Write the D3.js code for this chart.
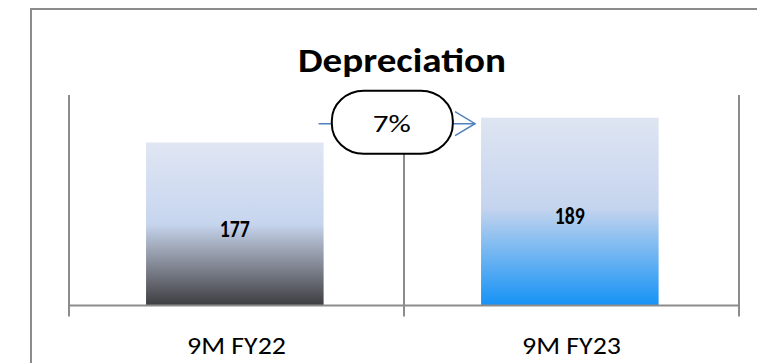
<!DOCTYPE html>
<html>
<head>
<meta charset="utf-8">
<script src="https://cdn.jsdelivr.net/npm/d3@7"></script>
<style>
  html, body { margin: 0; padding: 0; background: #fff; overflow: hidden; }
  #chart { width: 757px; height: 363px; }
  svg { display: block; }
  text { font-family: Carlito, Calibri, Lato, sans-serif; }
</style>
</head>
<body>
<div id="chart"></div>
<script>
// chart data
const categories = ["9M FY22", "9M FY23"]
const values = [177, 189]
const title = "Depreciation"
const yDomain = [98, 200]

const width = 757
const height = 363

const svg = d3.select("#chart").append("svg")
  .attr("viewBox", [0, 0, width, height])
  .attr("width", width)
  .attr("height", height)

// gradients for the two bars
const defs = svg.append("defs")
const grads = [
  [["0%", "#e0e6f3"], ["50%", "#c6d5ee"], ["64%", "#a2aabb"], ["100%", "#3d3d40"]],
  [["0%", "#dee5f2"], ["48%", "#c5d4ee"], ["65%", "#8bbff0"], ["100%", "#1592f6"]]
]
grads.forEach((stops, i) => {
  const g = defs.append("linearGradient")
    .attr("id", "bar" + i)
    .attr("x1", 0).attr("y1", 0).attr("x2", 0).attr("y2", 1)
  stops.forEach(s => g.append("stop").attr("offset", s[0]).attr("stop-color", s[1]))
})

// outer frame: only the top and left edges are in view
svg.append("path")
  .attr("d", "M31,400V9H900")
  .attr("fill", "none")
  .attr("stroke", "#8c8c8c")
  .attr("stroke-width", 2)

const x = d3.scaleBand()
  .domain(categories)
  .range([69, 739])

const y = d3.scaleLinear()
  .domain(yDomain)
  .range([305.5, 95])

const plot = svg.append("g").classed("plot", true)

// category separators / axis line
const edges = [x(categories[0]), ...categories.map(c => x(c) + x.bandwidth())]
plot.append("g").classed("grid", true)
  .selectAll("line")
  .data(edges)
  .join("line")
  .attr("x1", d => d).attr("x2", d => d)
  .attr("y1", y(yDomain[1])).attr("y2", y(yDomain[0]) + 11)
  .attr("stroke", "#8c8c8c")
  .attr("stroke-width", 2)

// bars
const barW = x.bandwidth() * 0.53
const barX = c => x(c) + x.bandwidth() * 0.23
plot.append("g").classed("bars", true)
  .selectAll("rect")
  .data(values)
  .join("rect")
  .attr("x", (d, i) => barX(categories[i]))
  .attr("width", barW)
  .attr("y", d => y(d))
  .attr("height", d => y(yDomain[0]) - y(d))
  .attr("fill", (d, i) => `url(#bar${i})`)

// baseline
plot.append("line")
  .attr("x1", 69).attr("x2", 739)
  .attr("y1", y(yDomain[0])).attr("y2", y(yDomain[0]))
  .attr("stroke", "#8c8c8c")
  .attr("stroke-width", 2)

// value labels
plot.append("g").classed("labels", true)
  .selectAll("text")
  .data(values)
  .join("text")
  .attr("x", (d, i) => barX(categories[i]) + barW / 2)
  .attr("y", d => (y(d) + y(yDomain[0])) / 2 + 4)
  .attr("dy", "0.35em")
  .attr("text-anchor", "middle")
  .attr("font-weight", "bold")
  .attr("font-size", 25)
  .attr("textLength", 30)
  .attr("lengthAdjust", "spacingAndGlyphs")
  .text(d => d)

// category labels
plot.append("g").classed("axis x", true)
  .selectAll("text")
  .data(categories)
  .join("text")
  .attr("x", d => x(d) + x.bandwidth() / 2)
  .attr("y", 345)
  .attr("dy", "0.35em")
  .attr("text-anchor", "middle")
  .attr("font-size", 25)
  .attr("textLength", 99)
  .attr("lengthAdjust", "spacingAndGlyphs")
  .text(d => d)

// title
svg.append("text")
  .attr("x", 402)
  .attr("y", 60)
  .attr("dy", "0.35em")
  .attr("text-anchor", "middle")
  .attr("font-weight", "bold")
  .attr("font-size", 34)
  .attr("textLength", 208)
  .attr("lengthAdjust", "spacingAndGlyphs")
  .text(title)

// growth arrow with bubble
const ax1 = barX(categories[0]) + barW - 5
const ax2 = barX(categories[1]) - 6
const ay = y(values[1]) + 6
const growth = Math.round((values[1] - values[0]) / values[0] * 100)

plot.append("line")
  .attr("x1", ax1).attr("x2", ax2)
  .attr("y1", ay).attr("y2", ay)
  .attr("stroke", "#4f81bd")
  .attr("stroke-width", 1.5)
plot.append("path")
  .attr("d", `M${ax2 - 20},${ay - 12}L${ax2},${ay}L${ax2 - 20},${ay + 12}`)
  .attr("fill", "none")
  .attr("stroke", "#4f81bd")
  .attr("stroke-width", 1.5)

const bx = (ax1 + ax2) / 2 - 5
plot.append("rect")
  .attr("x", bx - 60).attr("y", ay - 33)
  .attr("width", 121).attr("height", 63)
  .attr("rx", 32).attr("ry", 30)
  .attr("fill", "#fff")
  .attr("stroke", "#000")
  .attr("stroke-width", 2)
plot.append("text")
  .attr("x", bx)
  .attr("y", ay)
  .attr("dy", "0.35em")
  .attr("text-anchor", "middle")
  .attr("font-family", "Liberation Sans, Arial, sans-serif")
  .attr("font-size", 24)
  .attr("textLength", 38)
  .attr("lengthAdjust", "spacingAndGlyphs")
  .text(growth + "%")
</script>
</body>
</html>
